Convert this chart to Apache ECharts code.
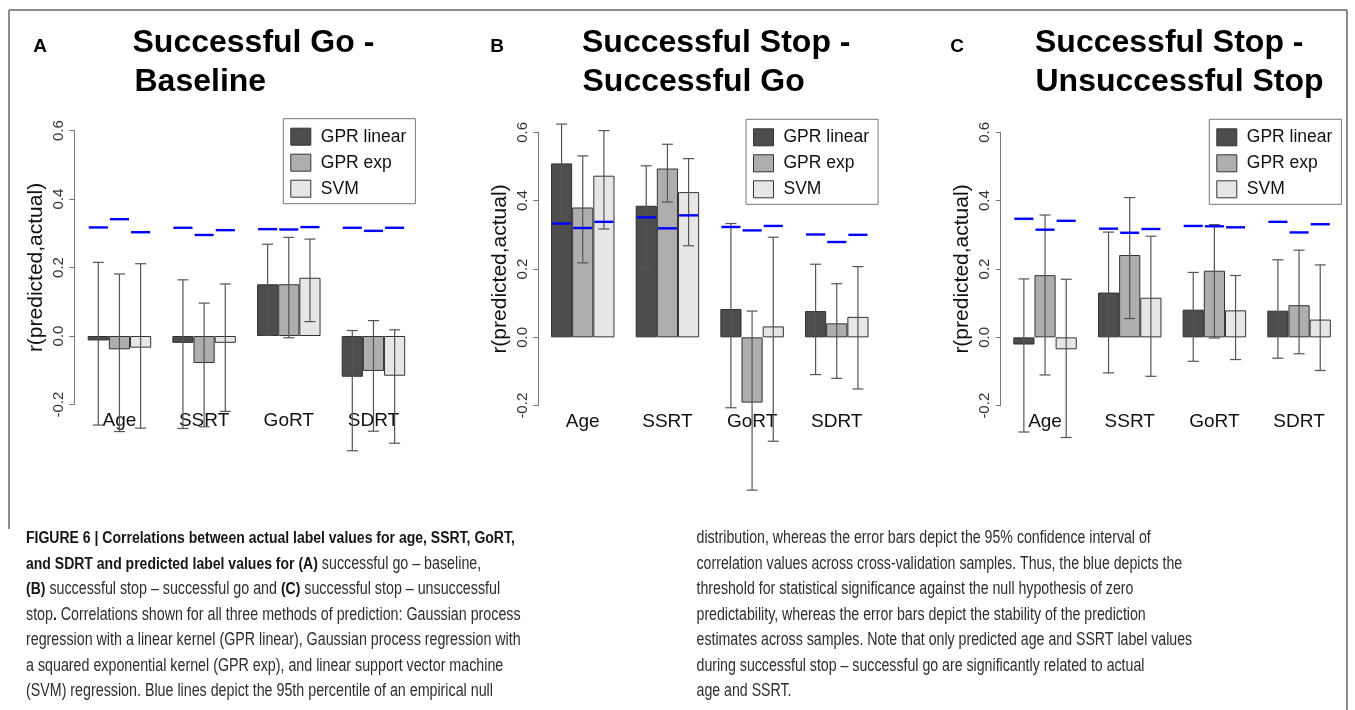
<!DOCTYPE html>
<html>
<head>
<meta charset="utf-8">
<script src="https://cdn.jsdelivr.net/npm/echarts@6/dist/echarts.min.js"></script>
<style>
html,body{margin:0;padding:0;background:#fff;}
#c{width:1355px;height:710px;}
</style>
</head>
<body>
<div id="c"></div>
<script>
// ---------------- data ----------------
const categories = ['Age', 'SSRT', 'GoRT', 'SDRT'];
const methods = ['GPR linear', 'GPR exp', 'SVM'];
const yTicks = [-0.2, 0.0, 0.2, 0.4, 0.6];
const yAxisTitle = 'r(predicted,actual)';

const titleA = ['Successful Go -', 'Baseline'];
const titleB = ['Successful Stop -', 'Successful Go'];
const titleC = ['Successful Stop -', 'Unsuccessful Stop'];

// rows: GPR linear, GPR exp, SVM ; columns: Age, SSRT, GoRT, SDRT
const aMean = [[-0.013, -0.020, 0.151, -0.119], [-0.039, -0.079, 0.151, -0.102], [-0.034, -0.020, 0.170, -0.116]];
const aLow  = [[-0.260, -0.270, 0.003, -0.335], [-0.279, -0.265, -0.005, -0.278], [-0.269, -0.220, 0.042, -0.313]];
const aHigh = [[0.215, 0.164, 0.268, 0.016], [0.181, 0.096, 0.288, 0.045], [0.211, 0.152, 0.283, 0.018]];
const aNull = [[0.317, 0.316, 0.312, 0.316], [0.341, 0.295, 0.311, 0.307], [0.303, 0.309, 0.318, 0.316]];

const bMean = [[0.509, 0.385, 0.083, 0.077], [0.380, 0.494, -0.191, 0.041], [0.473, 0.425, 0.032, 0.060]];
const bLow  = [[0.348, 0.202, -0.206, -0.109], [0.218, 0.396, -0.447, -0.120], [0.317, 0.268, -0.304, -0.151]];
const bHigh = [[0.624, 0.502, 0.333, 0.214], [0.531, 0.565, 0.077, 0.157], [0.605, 0.523, 0.293, 0.207]];
const bNull = [[0.333, 0.351, 0.323, 0.301], [0.320, 0.319, 0.313, 0.279], [0.338, 0.357, 0.326, 0.300]];

const cMean = [[-0.021, 0.131, 0.081, 0.078], [0.182, 0.241, 0.195, 0.094], [-0.035, 0.116, 0.079, 0.052]];
const cLow  = [[-0.277, -0.104, -0.070, -0.061], [-0.110, 0.055, -0.002, -0.048], [-0.293, -0.114, -0.065, -0.097]];
const cHigh = [[0.171, 0.308, 0.190, 0.227], [0.358, 0.409, 0.330, 0.255], [0.170, 0.296, 0.181, 0.212]];
const cNull = [[0.347, 0.318, 0.326, 0.338], [0.315, 0.306, 0.325, 0.307], [0.341, 0.317, 0.322, 0.331]];

const captionLeft = [
  [['b', 'FIGURE 6 | Correlations between actual label values for age, SSRT, GoRT,']],
  [['b', 'and SDRT and predicted label values for (A)'], ['n', ' successful go \u2013 baseline,']],
  [['b', '(B)'], ['n', ' successful stop \u2013 successful go and '], ['b', '(C)'], ['n', ' successful stop \u2013 unsuccessful']],
  [['n', 'stop'], ['b', '.'], ['n', ' Correlations shown for all three methods of prediction: Gaussian process']],
  [['n', 'regression with a linear kernel (GPR linear), Gaussian process regression with']],
  [['n', 'a squared exponential kernel (GPR exp), and linear support vector machine']],
  [['n', '(SVM) regression. Blue lines depict the 95th percentile of an empirical null']]
];
const captionRight = [
  'distribution, whereas the error bars depict the 95% confidence interval of',
  'correlation values across cross-validation samples. Thus, the blue depicts the',
  'threshold for statistical significance against the null hypothesis of zero',
  'predictability, whereas the error bars depict the stability of the prediction',
  'estimates across samples. Note that only predicted age and SSRT label values',
  'during successful stop \u2013 successful go are significantly related to actual',
  'age and SSRT.'
];

// ---------------- styling / layout ----------------
const barColors = ['#4D4D4D', '#AEAEAE', '#E6E6E6'];
const FONT = "'Liberation Sans', Arial, Helvetica, sans-serif";
const CAPFONT = "'Liberation Sans', Arial, Helvetica, sans-serif";

const panels = [
  { letter: 'A', letterX: 40, title: titleA, titleX: [132.5, 134.5],
    grid: { left: 77.1, top: 130.5, width: 338.7, height: 274 }, axisOffset: 2.8,
    legend: { left: 283.3, top: 118.7 }, mean: aMean, low: aLow, high: aHigh, nul: aNull },
  { letter: 'B', letterX: 497, title: titleB, titleX: [582, 582.5],
    grid: { left: 540.4, top: 132.3, width: 338.7, height: 273.4 }, axisOffset: 2.1,
    legend: { left: 746, top: 119.3 }, mean: bMean, low: bLow, high: bHigh, nul: bNull },
  { letter: 'C', letterX: 957, title: titleC, titleX: [1035, 1035.5],
    grid: { left: 1002.7, top: 132.3, width: 338.7, height: 273.4 }, axisOffset: 2.0,
    legend: { left: 1209.3, top: 119.3 }, mean: cMean, low: cLow, high: cHigh, nul: cNull }
];

function fmtTick(v) {
  if (Math.abs(v) < 1e-9) return '0.0';
  return v.toFixed(1);
}

function errItem(params, api) {
  const cat = api.value(0), m = api.value(1), lo = api.value(2), hi = api.value(3);
  const catW = api.size([1, 0])[0];
  const bw = catW * 0.25;
  const x = api.coord([cat, 0])[0] + (m - 1) * bw;
  const yLo = api.coord([cat, lo])[1];
  const yHi = api.coord([cat, hi])[1];
  const cap = bw * 0.26;
  const st = { stroke: '#555', lineWidth: 1.2 };
  return { type: 'group', children: [
    { type: 'line', shape: { x1: x, y1: yLo, x2: x, y2: yHi }, style: st },
    { type: 'line', shape: { x1: x - cap, y1: yLo, x2: x + cap, y2: yLo }, style: st },
    { type: 'line', shape: { x1: x - cap, y1: yHi, x2: x + cap, y2: yHi }, style: st }
  ]};
}

function nullItem(params, api) {
  const cat = api.value(0), m = api.value(1), v = api.value(2);
  const catW = api.size([1, 0])[0];
  const bw = catW * 0.25;
  const x = api.coord([cat, 0])[0] + (m - 1) * bw;
  const y = api.coord([cat, v])[1];
  const hw = bw * 0.45;
  return { type: 'line', shape: { x1: x - hw, y1: y, x2: x + hw, y2: y },
           style: { stroke: '#0000FF', lineWidth: 2.4 } };
}

const grids = [], xAxes = [], yAxes = [], series = [], legends = [], graphics = [];

panels.forEach((p, gi) => {
  grids.push(Object.assign({ outerBoundsMode: 'none', containLabel: false }, p.grid));
  xAxes.push({
    gridIndex: gi, type: 'category', data: categories,
    axisLine: { show: false, onZero: false }, axisTick: { show: false },
    axisLabel: { fontSize: 19, color: '#111', fontFamily: FONT, margin: 7, interval: 0 },
    splitLine: { show: false }
  });
  yAxes.push({
    gridIndex: gi, type: 'value', min: yTicks[0], max: yTicks[yTicks.length - 1], interval: 0.2,
    offset: p.axisOffset,
    axisLine: { show: true, lineStyle: { color: '#777', width: 1 } },
    axisTick: { show: true, length: 5, lineStyle: { color: '#777', width: 1 } },
    splitLine: { show: false },
    axisLabel: { rotate: 90, margin: 8, fontSize: 15, color: '#333', fontFamily: FONT, formatter: fmtTick },
    name: yAxisTitle, nameLocation: 'middle', nameGap: 28,
    nameTextStyle: { fontSize: 21, color: '#111', fontFamily: FONT }
  });
  methods.forEach((m, mi) => {
    series.push({
      type: 'bar', name: m, xAxisIndex: gi, yAxisIndex: gi,
      data: p.mean[mi], barGap: '0%', barCategoryGap: '25%',
      itemStyle: { color: barColors[mi], borderColor: '#333', borderWidth: 1 },
      emphasis: { disabled: true }, silent: true
    });
  });
  const errData = [], nullData = [];
  methods.forEach((m, mi) => {
    categories.forEach((c, ci) => {
      errData.push([ci, mi, p.low[mi][ci], p.high[mi][ci]]);
      nullData.push([ci, mi, p.nul[mi][ci]]);
    });
  });
  series.push({ type: 'custom', xAxisIndex: gi, yAxisIndex: gi, renderItem: errItem,
    data: errData, encode: { x: 0, y: [2, 3] }, clip: false, silent: true, z: 3 });
  series.push({ type: 'custom', xAxisIndex: gi, yAxisIndex: gi, renderItem: nullItem,
    data: nullData, encode: { x: 0, y: 2 }, clip: false, silent: true, z: 4 });
  legends.push({
    orient: 'vertical', left: p.legend.left, top: p.legend.top,
    itemWidth: 20, itemHeight: 17, itemGap: 8, icon: 'rect',
    padding: [9, 9, 6, 7], borderColor: '#777', borderWidth: 1, borderRadius: 0,
    backgroundColor: '#fff', selectedMode: false, data: methods,
    itemStyle: { borderColor: '#333', borderWidth: 1 },
    textStyle: { fontSize: 17.5, color: '#111', fontFamily: FONT, padding: [0, 0, 0, 5] }
  });
  // panel letter and title
  graphics.push({ type: 'text', x: p.letterX, y: 47, style: {
    text: p.letter, fill: '#000', font: 'bold 19px ' + FONT, align: 'center', verticalAlign: 'middle',
    textAlign: 'center', textVerticalAlign: 'middle' } });
  p.title.forEach((t, li) => {
    graphics.push({ type: 'text', x: p.titleX[li], y: li === 0 ? 43.5 : 81.8, style: {
      text: t, fill: '#000', font: 'bold 32px ' + FONT, align: 'left', verticalAlign: 'middle',
      textAlign: 'left', textVerticalAlign: 'middle' } });
  });
});

// frame lines
const frameStyle = { stroke: '#666', lineWidth: 1.5 };
graphics.push({ type: 'line', shape: { x1: 9, y1: 10, x2: 1347, y2: 10 }, style: frameStyle });
graphics.push({ type: 'line', shape: { x1: 9, y1: 10, x2: 9, y2: 529 }, style: frameStyle });
graphics.push({ type: 'line', shape: { x1: 1347, y1: 10, x2: 1347, y2: 710 }, style: frameStyle });

// caption (condensed look via horizontal scale)
const capSize = 17.5;
const capScale = 0.815;
const rich = {
  b: { fontWeight: 'bold', fontSize: 17.2, fontFamily: CAPFONT, fill: '#161616', color: '#161616' },
  n: { fontWeight: 'normal', fontSize: capSize, fontFamily: CAPFONT, fill: '#2e2e2e', color: '#2e2e2e' }
};
const lineY0 = 538.5, lineStep = 25.5;
captionLeft.forEach((parts, i) => {
  const txt = parts.map(pp => '{' + pp[0] + '|' + pp[1] + '}').join('');
  graphics.push({ type: 'text', x: 26, y: lineY0 + i * lineStep, scaleX: capScale, style: {
    text: txt, rich: rich, fontSize: capSize, fontFamily: CAPFONT, fill: '#2e2e2e',
    align: 'left', verticalAlign: 'middle', textAlign: 'left', textVerticalAlign: 'middle' } });
});
captionRight.forEach((t, i) => {
  graphics.push({ type: 'text', x: 696.5, y: lineY0 + i * lineStep, scaleX: capScale * 0.993, style: {
    text: t, fontSize: capSize, fontFamily: CAPFONT, fill: '#2e2e2e',
    align: 'left', verticalAlign: 'middle', textAlign: 'left', textVerticalAlign: 'middle' } });
});

const chart = echarts.init(document.getElementById('c'), null, { renderer: 'canvas' });
chart.setOption({
  backgroundColor: '#fff',
  animation: false,
  grid: grids, xAxis: xAxes, yAxis: yAxes, legend: legends, series: series,
  graphic: { elements: graphics }
});
</script>
</body>
</html>
